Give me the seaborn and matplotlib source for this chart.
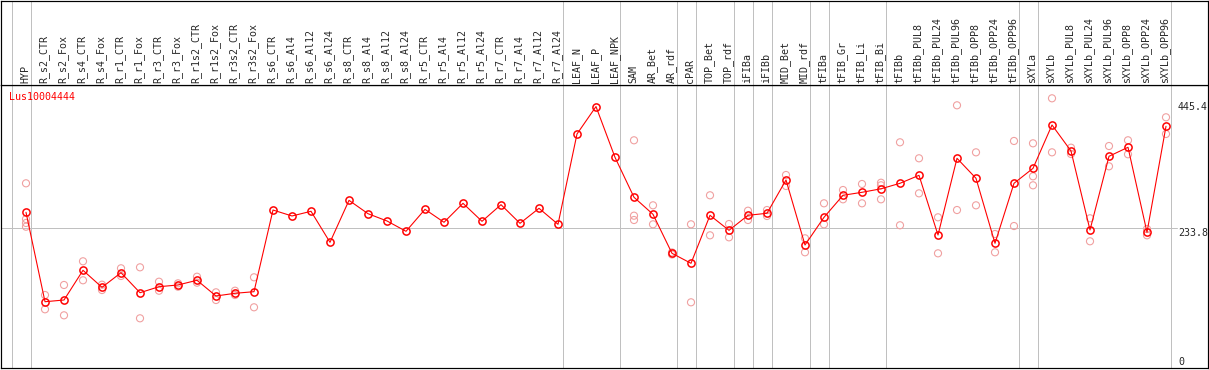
import numpy as np
import pandas as pd
import matplotlib
matplotlib.use("Agg")
import matplotlib.pyplot as plt
import seaborn as sns

gene = "Lus10004444"

samples = ["HYP", "R_s2_CTR", "R_s2_Fox", "R_s4_CTR", "R_s4_Fox", "R_r1_CTR", "R_r1_Fox",
           "R_r3_CTR", "R_r3_Fox", "R_r1s2_CTR", "R_r1s2_Fox", "R_r3s2_CTR", "R_r3s2_Fox",
           "R_s6_CTR", "R_s6_Al4", "R_s6_Al12", "R_s6_Al24", "R_s8_CTR", "R_s8_Al4", "R_s8_Al12",
           "R_s8_Al24", "R_r5_CTR", "R_r5_Al4", "R_r5_Al12", "R_r5_Al24", "R_r7_CTR", "R_r7_Al4",
           "R_r7_Al12", "R_r7_Al24", "LEAF_N", "LEAF_P", "LEAF_NPK", "SAM", "AR_Bet", "AR_rdf",
           "cPAR", "TOP_Bet", "TOP_rdf", "iFIBa", "iFIBb", "MID_Bet", "MID_rdf", "tFIBa",
           "tFIB_Gr", "tFIB_Li", "tFIB_Bi", "tFIBb", "tFIBb_PUL8", "tFIBb_PUL24", "tFIBb_PUL96",
           "tFIBb_OPP8", "tFIBb_OPP24", "tFIBb_OPP96", "sXYLa", "sXYLb", "sXYLb_PUL8",
           "sXYLb_PUL24", "sXYLb_PUL96", "sXYLb_OPP8", "sXYLb_OPP24", "sXYLb_OPP96"]

means = [261.0, 105.1, 108.1, 159.9, 130.2, 155.7, 120.8, 131.3, 134.3, 142.5, 115.1, 119.8,
         122.6, 265.0, 254.6, 262.8, 208.7, 281.9, 258.6, 245.9, 227.9, 266.2, 243.6, 276.7,
         245.3, 274.3, 241.8, 268.0, 240.1, 397.6, 445.4, 356.9, 287.2, 257.5, 189.5, 172.1,
         255.8, 229.6, 255.8, 259.3, 317.4, 204.0, 252.3, 290.7, 295.9, 302.0, 311.6, 325.5,
         221.4, 355.2, 320.3, 207.0, 311.6, 337.7, 413.3, 367.9, 230.2, 358.7, 374.4, 226.2,
         411.0]

replicates = [
    [311.6, 249.3, 242.4, 235.9], [116.8, 91.9], [134.3, 81.4], [175.6, 142.5],
    [134.8, 125.5], [163.4, 150.0], [165.1, 76.2], [140.0, 124.3], [137.2, 131.3],
    [148.7, 138.3], [121.5, 108.1], [124.3, 116.8], [147.7, 95.4],
    [], [], [], [], [], [], [], [], [], [], [], [], [], [], [], [], [], [], [],
    [386.6, 255.1, 247.6], [273.2, 240.1], [191.0, 187.5], [240.1, 104.1],
    [290.7, 220.9], [240.6, 217.4], [263.8, 247.6], [265.0, 254.6], [326.1, 306.9],
    [215.7, 191.3], [276.7, 240.1], [299.9, 283.7], [310.4, 276.7],
    [312.6, 308.1, 283.7], [383.1, 238.4], [355.2, 294.1], [252.3, 189.5],
    [447.6, 265.0], [365.6, 273.2], [223.2, 191.3], [385.4, 237.1],
    [381.3, 323.8, 308.1], [459.8, 365.6], [373.7, 362.7], [250.6, 210.5],
    [376.6, 341.2], [386.6, 362.2], [231.9, 220.9], [426.7, 397.6],
]

separators_after = [-1, 0, 28, 31, 34, 35, 37, 38, 39, 41, 42, 45, 52, 53, 60]
axis_labels = [445.4, 233.8, 0]
grid_value = 233.8

# ---------------------------------------------------------------
sns.set_style("white")
plt.rcParams["font.family"] = ["DejaVu Sans Mono", "DejaVu Sans"]

W, H = 1209, 370
fig = plt.figure(figsize=(W / 100, H / 100), dpi=100)

px = 0.72  # one pixel in points
x_lo, x_hi = (1 - 26) / 19, (1208 - 26) / 19
y_lo, y_hi = (362 - 368) / 0.5735, (362 - 85) / 0.5735

ax = fig.add_axes([1 / W, (H - 368) / H, 1207 / W, 283 / H])
hx = fig.add_axes([1 / W, (H - 85) / H, 1207 / W, 84.5 / H], sharex=ax)

mean_df = pd.DataFrame({"pos": np.arange(len(samples)), "value": means})
rep_df = pd.DataFrame([(i, v) for i, reps in enumerate(replicates) for v in reps],
                      columns=["pos", "value"])

grey = "#c0c0c0"
for a in (ax, hx):
    for s in separators_after:
        a.axvline(s + 0.25, color=grey, lw=px, zorder=0)
    for sp in a.spines.values():
        sp.set_color("black")
        sp.set_linewidth(1.2 * px)
    a.set_xticks([])
    a.set_yticks([])
    a.set_xlabel("")
    a.set_ylabel("")

ax.axhline(grid_value, xmin=0, xmax=(1177 - 1) / 1207, color=grey, lw=px, zorder=0)

sns.scatterplot(data=rep_df, x="pos", y="value", ax=ax, marker="o", s=26,
                facecolors="none", edgecolors="#f0a0a0", linewidths=1.1 * px, zorder=2)
sns.lineplot(data=mean_df, x="pos", y="value", ax=ax, color="red", lw=1.1 * px,
             marker="o", markersize=5.2, markerfacecolor="none", markeredgecolor="red",
             markeredgewidth=1.5 * px, zorder=3)

ax.set_xlim(x_lo, x_hi)
ax.set_ylim(y_lo, y_hi)
ax.set_xlabel("")
ax.set_ylabel("")
ax.set_xticks([])
ax.set_yticks([])

ax.text((9 - 26) / 19, (362 - 97) / 0.5735, gene, color="red", fontsize=7.2,
        ha="left", va="center")

label_x = (1178 - 26) / 19
ax.text(label_x, axis_labels[0], f"{axis_labels[0]:g}", fontsize=7.2, ha="left", va="center")
ax.text(label_x, axis_labels[1], f"{axis_labels[1]:g}", fontsize=7.2, ha="left", va="top")
ax.text(label_x, axis_labels[2], f"{axis_labels[2]:g}", fontsize=7.2, ha="left", va="center")

hx.set_ylim(0, 1)
for i, name in enumerate(samples):
    hx.text(i - 0.05, 2 / 84.5, name, rotation=90, fontsize=7.2, ha="center", va="bottom",
            rotation_mode="default")

fig.savefig("out.png", dpi=100)
